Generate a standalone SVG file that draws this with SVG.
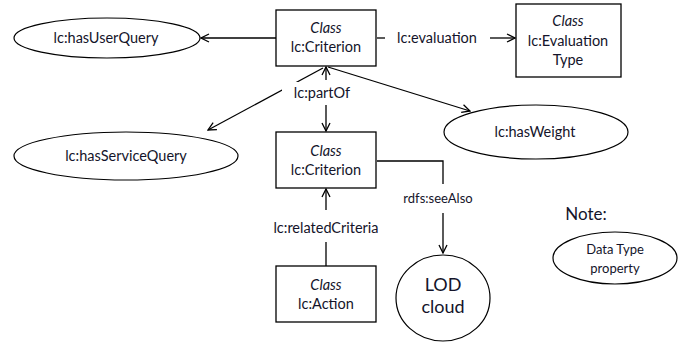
<svg xmlns="http://www.w3.org/2000/svg" width="694" height="348" viewBox="0 0 694 348">
<defs>
<marker id="arr" viewBox="0 0 10 10" refX="9" refY="5" markerWidth="10" markerHeight="10" markerUnits="userSpaceOnUse" orient="auto">
<path d="M1,1 L9,5 L1,9" fill="none" stroke="#000" stroke-width="1.3"/>
</marker>
</defs>
<style>
text{font-family:Lato,"Liberation Sans",sans-serif;font-size:14.5px;fill:#14142a;text-anchor:middle}
.i{font-style:italic}
.box{fill:#fff;stroke:#000;stroke-width:1.3}
.e{fill:#fff;stroke:#000;stroke-width:1.2}
.c{fill:none;stroke:#000;stroke-width:1.3}
</style>
<rect width="694" height="348" fill="#fff"/>
<g id="connectors">
<line class="c" x1="276" y1="38" x2="201" y2="38" marker-end="url(#arr)"/>
<line class="c" x1="377" y1="38" x2="385" y2="38"/>
<line class="c" x1="490" y1="38" x2="515" y2="38" marker-end="url(#arr)"/>
<line class="c" x1="323" y1="68" x2="208" y2="130" marker-end="url(#arr)"/>
<line class="c" x1="328" y1="67" x2="470" y2="111" marker-end="url(#arr)"/>
<rect x="282" y="82" width="78" height="22" fill="#fff"/>
<line class="c" x1="326" y1="80" x2="326" y2="67" marker-end="url(#arr)"/>
<line class="c" x1="326" y1="105" x2="326" y2="131" marker-end="url(#arr)"/>
<line class="c" x1="326" y1="210" x2="326" y2="189" marker-end="url(#arr)"/>
<line class="c" x1="326" y1="242" x2="326" y2="266"/>
<polyline class="c" points="377,161 443,161 443,184"/>
<line class="c" x1="443" y1="213" x2="443" y2="253" marker-end="url(#arr)"/>
<text x="322" y="98">lc:partOf</text>
<text x="437" y="43">lc:evaluation</text>
<text x="326" y="233">lc:relatedCriteria</text>
<text x="438" y="203" style="font-size:13px">rdfs:seeAlso</text>
</g>
<g id="criterion-top">
<rect class="box" x="276" y="10" width="100" height="56"/>
<text class="i" x="326" y="33">Class</text>
<text x="326" y="52">lc:Criterion</text>
</g>
<g id="evaluation-type">
<rect class="box" x="516" y="4" width="105" height="73"/>
<text class="i" x="568" y="26">Class</text>
<text x="568" y="46">lc:Evaluation</text>
<text x="568" y="65">Type</text>
</g>
<g id="hasUserQuery">
<ellipse class="e" cx="107" cy="38" rx="93" ry="20"/>
<text x="106" y="43">lc:hasUserQuery</text>
</g>
<g id="hasServiceQuery">
<ellipse class="e" cx="126" cy="156" rx="112" ry="24"/>
<text x="126" y="161">lc:hasServiceQuery</text>
</g>
<g id="hasWeight">
<ellipse class="e" cx="536" cy="132" rx="92" ry="27"/>
<text x="535" y="137">lc:hasWeight</text>
</g>
<g id="criterion-bottom">
<rect class="box" x="276" y="132" width="100" height="56"/>
<text class="i" x="326" y="156">Class</text>
<text x="326" y="175">lc:Criterion</text>
</g>
<g id="action">
<rect class="box" x="276" y="266" width="100" height="56"/>
<text class="i" x="326" y="290">Class</text>
<text x="326" y="309">lc:Action</text>
</g>
<g id="lod-cloud">
<ellipse class="e" cx="443" cy="298" rx="47" ry="43"/>
<text x="443" y="291" style="font-size:18px">LOD</text>
<text x="443" y="313" style="font-size:18px">cloud</text>
</g>
<g id="note">
<text x="586" y="220" style="font-size:17px">Note:</text>
</g>
<g id="data-type-property">
<ellipse class="e" cx="615" cy="258" rx="62" ry="26"/>
<text x="615" y="254" style="font-size:13px">Data Type</text>
<text x="615" y="273" style="font-size:13px">property</text>
</g>
</svg>
